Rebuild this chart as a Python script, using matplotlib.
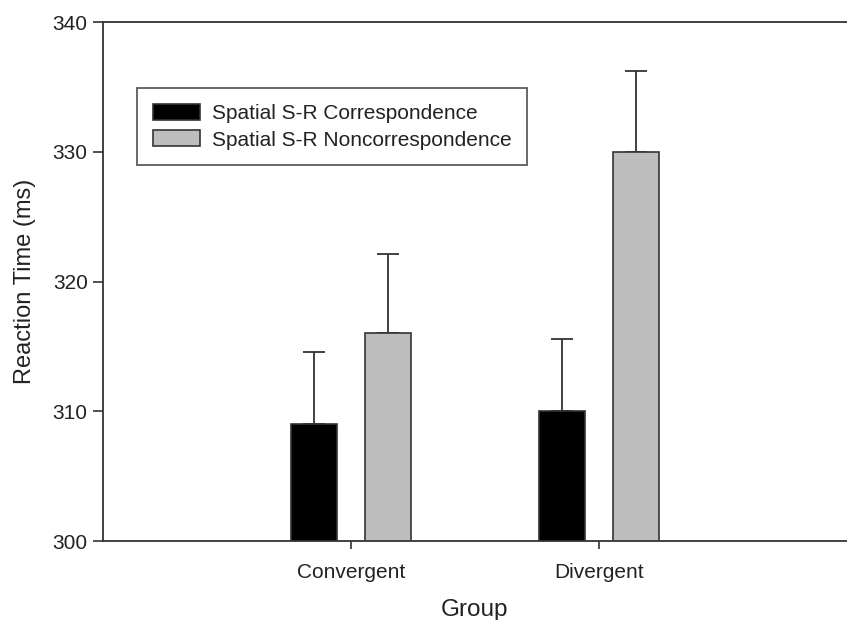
import numpy as np
import matplotlib
matplotlib.use('Agg')
import matplotlib.pyplot as plt

plt.rcParams['font.family'] = ['Liberation Sans', 'DejaVu Sans']

groups = ['Convergent', 'Divergent']
series_names = ['Spatial S-R Correspondence', 'Spatial S-R Noncorrespondence']
correspondence = [309.0, 310.0]
correspondence_err = [5.6, 5.6]
noncorrespondence = [316.0, 330.0]
noncorrespondence_err = [6.1, 6.2]

x = np.arange(1, len(groups) + 1)
width = 0.185
offset = 0.15
edge = '#333333'

fig = plt.figure(figsize=(8.47, 6.2), dpi=100)
ax = fig.add_axes([0.1216, 0.1274, 0.8784, 0.8371])

ax.bar(x - offset, correspondence, width, color='black', edgecolor=edge,
       linewidth=1.2, label=series_names[0], zorder=2)
ax.bar(x + offset, noncorrespondence, width, color='#bebebe', edgecolor=edge,
       linewidth=1.2, label=series_names[1], zorder=2)

# only upper error bars
ax.errorbar(x - offset, correspondence, yerr=[np.zeros(2), correspondence_err],
            fmt='none', ecolor=edge, elinewidth=1.3, capsize=8, capthick=1.3, zorder=1)
ax.errorbar(x + offset, noncorrespondence, yerr=[np.zeros(2), noncorrespondence_err],
            fmt='none', ecolor=edge, elinewidth=1.3, capsize=8, capthick=1.3, zorder=1)

ax.set_xlim(0, 3)
ax.set_ylim(300, 340)
ax.set_yticks([300, 310, 320, 330, 340])
ax.set_xticks(x)
ax.set_xticklabels(groups)
ax.tick_params(axis='y', direction='out', length=7, width=1.2, color=edge, labelsize=15,
               pad=4, labelcolor='#222222')
ax.tick_params(axis='x', direction='out', length=6, width=1.2, color=edge, labelsize=15,
               pad=10, labelcolor='#222222')

ax.spines['right'].set_visible(False)
for s in ['left', 'top', 'bottom']:
    ax.spines[s].set_color(edge)
    ax.spines[s].set_linewidth(1.3)

ax.set_xlabel('Group', fontsize=17.5, labelpad=12, color='#222222')
ax.set_ylabel('Reaction Time (ms)', fontsize=17, labelpad=12, color='#222222')

leg = ax.legend(loc='upper left', bbox_to_anchor=(0.0457, 0.873), borderaxespad=0,
                fontsize=15, frameon=True, fancybox=False, edgecolor=edge,
                handlelength=2.26, handleheight=0.82, borderpad=0.75,
                labelspacing=0.35, handletextpad=0.58)
leg.get_frame().set_linewidth(1.3)
for t in leg.get_texts():
    t.set_color('#222222')

fig.savefig('out.png', dpi=100)
